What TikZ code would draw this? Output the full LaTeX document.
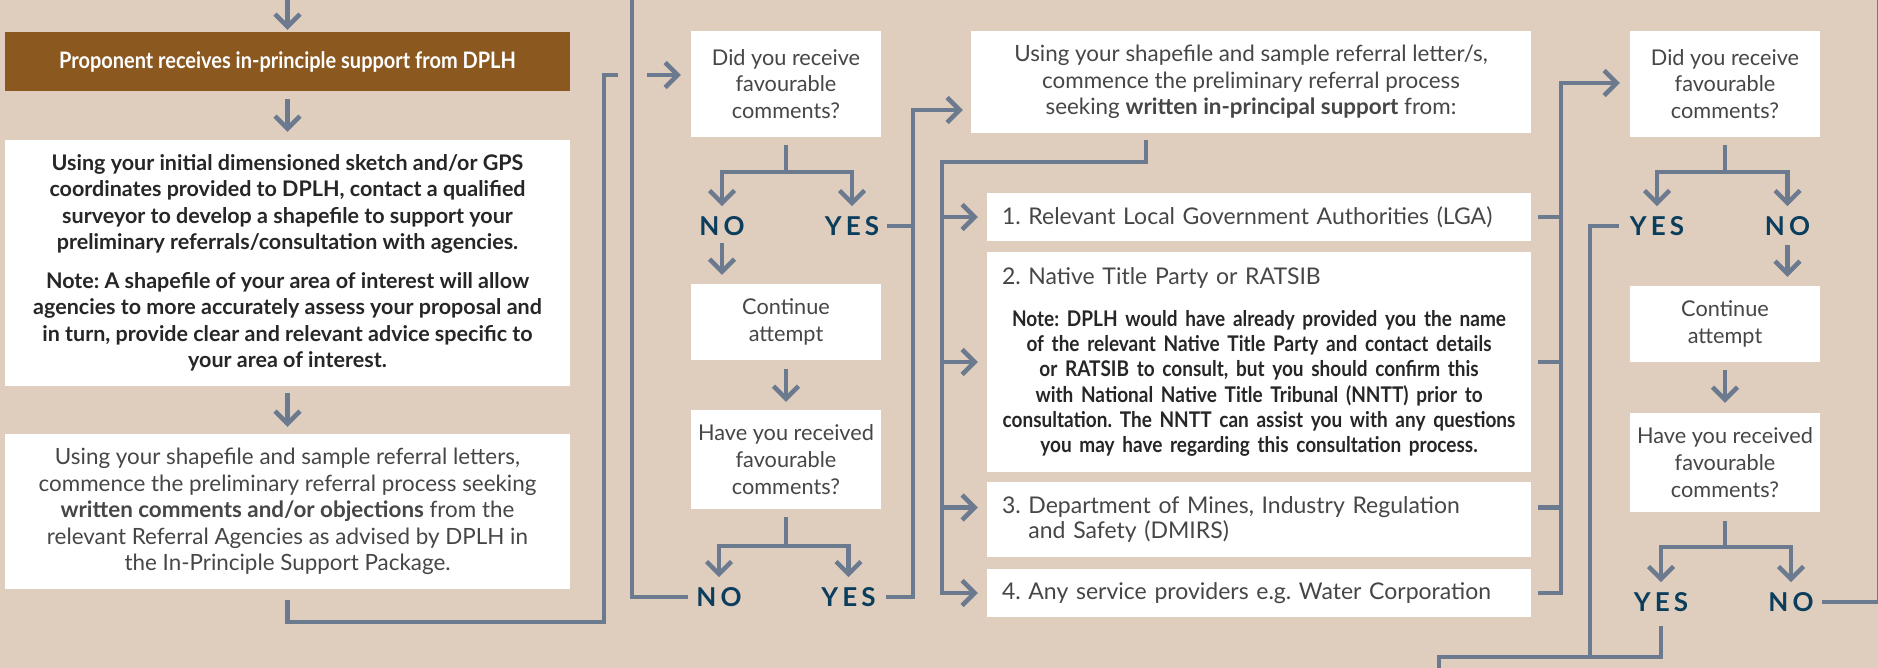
\documentclass[tikz,border=0pt]{standalone}
\usepackage{fontspec}
\setmainfont{Lato}
\newfontfamily\narrowfont{Lato}[FakeStretch=0.88]
\newfontfamily\answerfont{Lato}[LetterSpace=16]
\frenchspacing
\usepackage{tikz}
\usetikzlibrary{arrows.meta,positioning}
\definecolor{sand}{RGB}{223,206,190}
\definecolor{slate}{RGB}{108,122,143}
\definecolor{navy}{RGB}{11,61,93}
\definecolor{umber}{RGB}{139,88,32}
\definecolor{ink}{RGB}{70,70,70}
\tikzstyle{block} = [fill=white, inner sep=0pt, align=center, text=ink, font=\fontsize{22.4}{26.6}\selectfont]
\tikzstyle{question} = [block, minimum width=190pt, font=\fontsize{21.7}{26.6}\selectfont]
\tikzstyle{banner} = [block, fill=umber, text=white, font=\narrowfont\bfseries\fontsize{22.7}{26}\selectfont]
\tikzstyle{listitem} = [block, align=left, text width=514pt, minimum width=544pt, font=\fontsize{23}{25}\selectfont]
\tikzstyle{answer} = [inner sep=0pt, text=navy, font=\answerfont\bfseries\fontsize{26}{26}\selectfont]
\tikzstyle{wire} = [draw=slate, line width=4.5pt]

\begin{document}
\begin{tikzpicture}[x=1pt, y=-1pt, >={Straight Barb[length=12.5pt,width=25pt]}]
    \useasboundingbox (0,0) rectangle (1878,668);
    \fill [sand] (0,0) rectangle (1878,668);

    % left column
    \node [banner, minimum width=565pt, minimum height=59pt] (support) at (287.5,61.5) {Proponent receives in-principle support from DPLH};
    \node [block, minimum width=565pt, minimum height=246pt, text=black!85, font=\bfseries\fontsize{21.5}{26.5}\selectfont] (sketch) at (287.5,263)
        {Using your initial dimensioned sketch and/or GPS\\ coordinates provided to DPLH, contact a qualified\\ surveyor to develop a shapefile to support your\\ preliminary referrals/consultation with agencies.\\[12pt]
         Note: A shapefile of your area of interest will allow\\ agencies to more accurately assess your proposal and\\ in turn, provide clear and relevant advice specific to\\ your area of interest.};
    \node [block, minimum width=565pt, minimum height=155pt] (agencies) at (287.5,511.5)
        {Using your shapefile and sample referral letters,\\ commence the preliminary referral process seeking\\ \textbf{written comments and/or objections} from the\\ relevant Referral Agencies as advised by DPLH in\\ the In-Principle Support Package.};

    % first check
    \node [question, minimum height=106pt] (check1) at (786,84) {Did you receive\\ favourable\\ comments?};
    \node [answer] (no1) at (722,226) {NO};
    \node [answer] (yes1) at (852,226) {YES};
    \node [question, minimum height=76pt] (retry1) at (786,322) {Continue\\ attempt};
    \node [question, minimum height=99pt] (recheck1) at (786,459.5) {Have you received\\ favourable\\ comments?};
    \node [answer] (no2) at (719,597) {NO};
    \node [answer] (yes2) at (848.5,597) {YES};

    % referral list
    \node [block, minimum width=560pt, minimum height=102pt] (letters) at (1251,82)
        {Using your shapefile and sample referral letter/s,\\ commence the preliminary referral process\\ seeking \textbf{written in-principal support} from:};
    \node [listitem, minimum height=48pt] (lga) at (1259,217) {1. Relevant Local Government Authorities (LGA)};
    \node [listitem, minimum height=220pt] (native) at (1259,362)
        {2. Native Title Party or RATSIB\\[1pt]
         \makebox[514pt]{\parbox[t]{540pt}{\centering\narrowfont\bfseries\fontsize{21.6}{25.2}\selectfont\color{black!85}
         Note: DPLH would have already provided you the name\\ of the relevant Native Title Party and contact details\\ or RATSIB to consult, but you should confirm this\\ with National Native Title Tribunal (NNTT) prior to\\ consultation. The NNTT can assist you with any questions\\ you may have regarding this consultation process.}}};
    \node [listitem, minimum height=75pt] (dmirs) at (1259,519.5) {3. Department of Mines, Industry Regulation\\ \hphantom{3.~}and Safety (DMIRS)};
    \node [listitem, minimum height=48pt] (water) at (1259,593) {4. Any service providers e.g. Water Corporation};

    % second check
    \node [question, minimum height=106pt] (check2) at (1725,84) {Did you receive\\ favourable\\ comments?};
    \node [answer] (yes3) at (1657,226) {YES};
    \node [answer] (no3) at (1787.5,226) {NO};
    \node [question, minimum height=76pt] (retry2) at (1725,324) {Continue\\ attempt};
    \node [question, minimum height=99pt] (recheck2) at (1725,462.5) {Have you received\\ favourable\\ comments?};
    \node [answer] (yes4) at (1661,602) {YES};
    \node [answer] (no4) at (1791,602) {NO};

    % connectors, left column
    \coordinate (entry) at (287.5,-5);
    \draw [wire, ->, shorten >=2pt] (entry) -- (support);
    \draw [wire, ->, shorten <=8pt, shorten >=8pt] (support) -- (sketch);
    \draw [wire, ->, shorten <=7pt, shorten >=7pt] (sketch) -- (agencies);
    \coordinate (loopL) at (604,622);
    \coordinate (in1) at ([yshift=9pt]check1.west);
    \draw [wire, ->, shorten <=11pt, shorten >=10pt] (agencies.south) |- (loopL) |- (in1);

    % first check
    \draw [wire, ->, shorten <=8pt, shorten >=10pt] (check1.south) -- ++(0,35) -| (no1.north);
    \draw [wire, ->, shorten <=8pt, shorten >=10pt] (check1.south) -- ++(0,35) -| (yes1.north);
    \draw [wire, ->, shorten <=7pt, shorten >=9pt] (no1) -- (no1 |- retry1.north);
    \draw [wire, ->, shorten <=9pt, shorten >=8pt] (retry1) -- (recheck1);
    \draw [wire, ->, shorten <=8pt, shorten >=10pt] (recheck1.south) -- ++(0,37) -| (no2.north);
    \draw [wire, ->, shorten <=8pt, shorten >=10pt] (recheck1.south) -- ++(0,37) -| (yes2.north);
    \coordinate (back) at (632,-10);
    \draw [wire, shorten <=8pt, preaction={draw=sand, line width=29pt}] (no2.west) -| (back);

    % yes goes on to the referral letters
    \coordinate (busA) at (913,110);
    \draw [wire, ->, shorten <=10pt, shorten >=8pt] (yes2.east) -| (busA) -- (busA -| letters.west);
    \draw [wire, shorten <=8pt] (yes1.east) -- (yes1.east -| busA);

    % letters to each agency
    \coordinate (split) at (1146,162);
    \coordinate (busB) at (942,162);
    \draw [wire, ->, shorten <=7pt, shorten >=9pt] (letters.south -| split) -- (split) -- (busB) |- (water.west);
    \draw [wire, ->, shorten >=9pt] (busB |- lga.west) -- (lga.west);
    \draw [wire, ->, shorten >=9pt] (busB |- native.west) -- (native.west);
    \coordinate (dmirsin) at ([yshift=12pt]dmirs.west);
    \draw [wire, ->, shorten >=9pt] (busB |- dmirsin) -- (dmirsin);

    % agencies back to the second check
    \coordinate (busC) at (1561,83);
    \draw [wire, ->, shorten <=7pt, shorten >=10pt] (water.east) -| (busC) -- (busC -| check2.west);
    \draw [wire, shorten <=7pt] (lga.east) -- (lga.east -| busC);
    \draw [wire, shorten <=7pt] (native.east) -- (native.east -| busC);
    \coordinate (dmirsout) at ([yshift=12pt]dmirs.east);
    \draw [wire, shorten <=7pt] (dmirsout) -- (dmirsout -| busC);

    % second check
    \draw [wire, ->, shorten <=8pt, shorten >=10pt] (check2.south) -- ++(0,35) -| (yes3.north);
    \draw [wire, ->, shorten <=8pt, shorten >=10pt] (check2.south) -- ++(0,35) -| (no3.north);
    \draw [wire, ->, shorten <=9pt, shorten >=9pt] (no3) -- (no3 |- retry2.north);
    \draw [wire, ->, shorten <=8pt, shorten >=10pt] (retry2) -- (recheck2);
    \draw [wire, ->, shorten <=9pt, shorten >=10pt] (recheck2.south) -- ++(0,35) -| (yes4.north);
    \draw [wire, ->, shorten <=9pt, shorten >=10pt] (recheck2.south) -- ++(0,35) -| (no4.north);

    % out of the picture
    \coordinate (busD) at (1590,657);
    \coordinate (exit) at (1439,680);
    \draw [wire, shorten <=11pt] (yes3.west) -| (busD);
    \draw [wire, shorten <=14pt] (yes4.south) -- (yes4.south |- busD) -| (exit);
    \coordinate (edge) at (1879.5,-10);
    \draw [wire, shorten <=8pt] (no4.east) -| (edge);
\end{tikzpicture}
\end{document}
